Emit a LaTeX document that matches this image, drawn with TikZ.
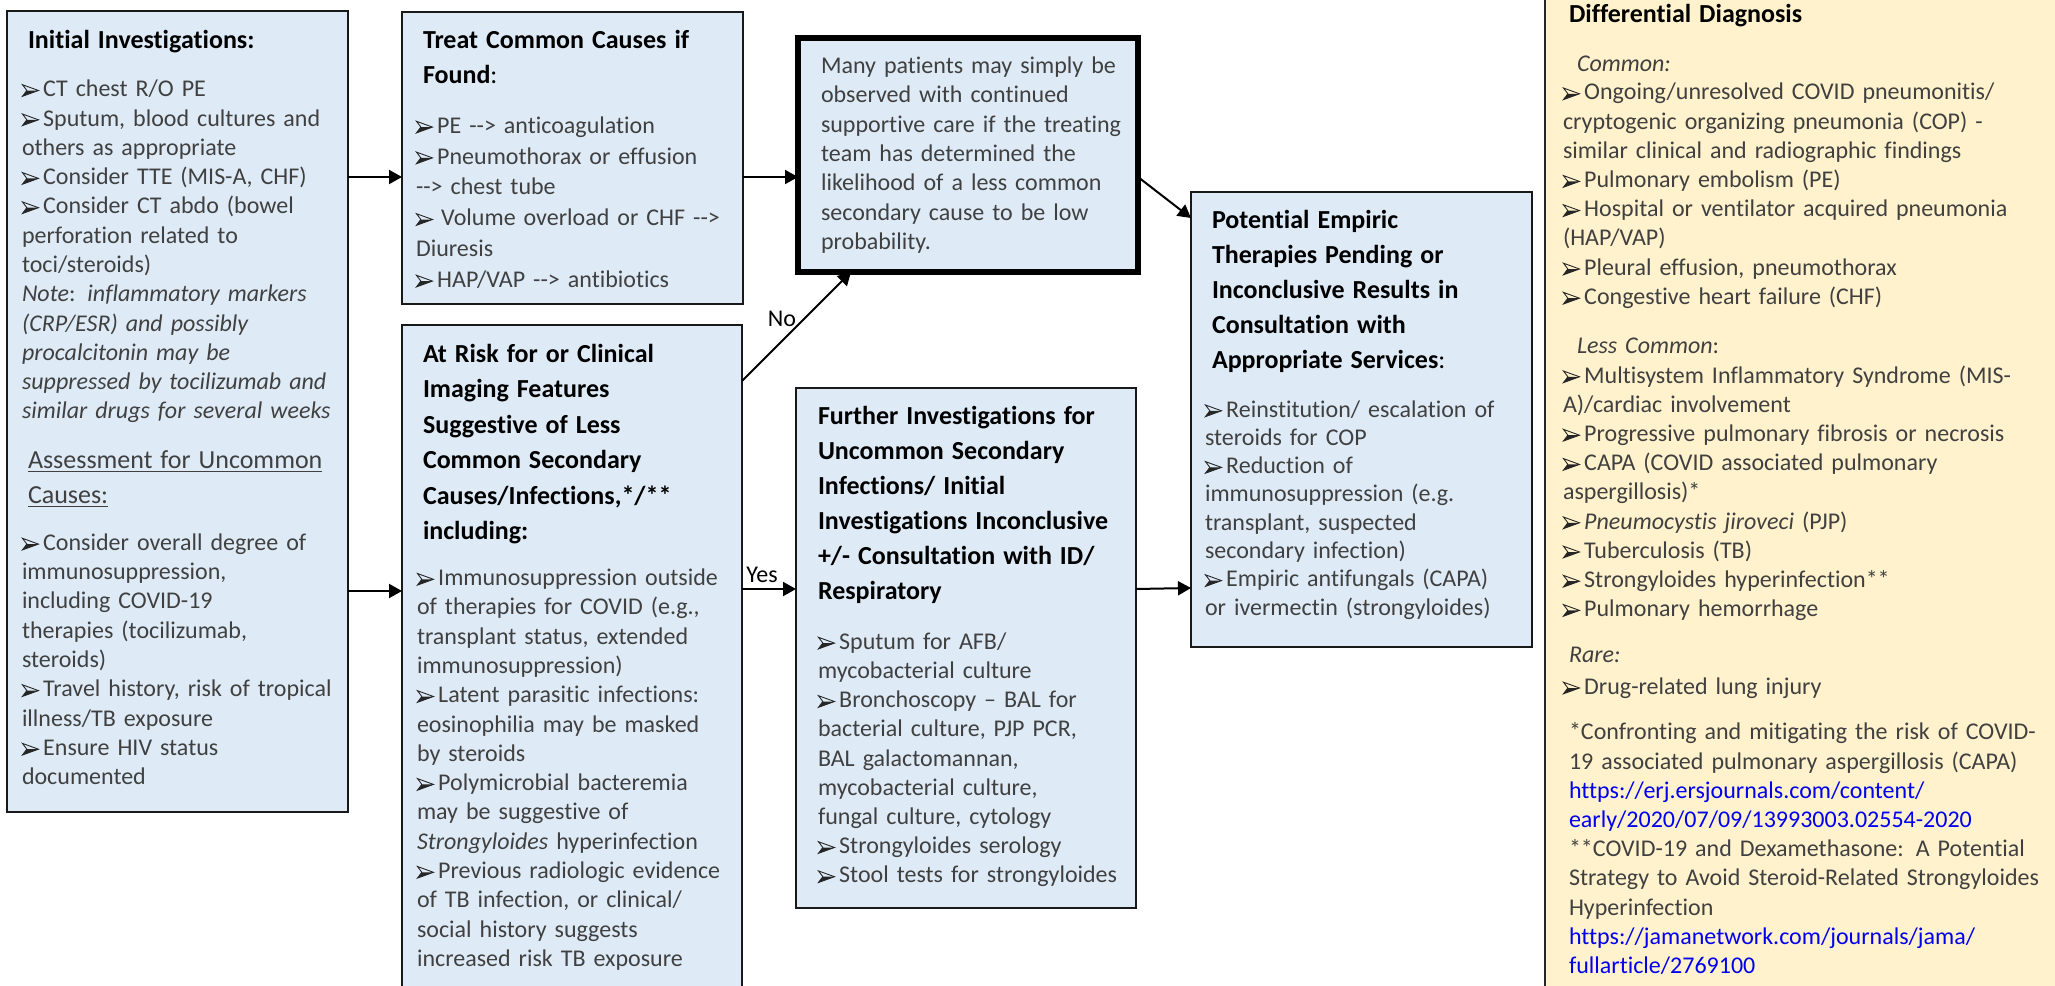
\documentclass[tikz,border=0pt]{standalone}
\usepackage{fontspec}
\setmainfont{Carlito}[Ligatures=NoCommon]
\usetikzlibrary{arrows.meta}
\definecolor{boxblue}{HTML}{DEEBF7}
\definecolor{boxyellow}{HTML}{FFF2CC}
\definecolor{txtgray}{HTML}{404040}
\definecolor{bulgray}{HTML}{262626}
\definecolor{linkblue}{HTML}{0000EE}
\newlength\hang \setlength\hang{10.6pt}
\newcommand\bulglyph{\tikz[x=1pt,y=1pt,baseline=0pt]{\fill[bulgray] (0.2,0.2) -- (8.2,3.1) -- (2.4,3.1) -- cycle; \draw[bulgray,line width=0.45pt,line join=miter] (0.2,6.0) -- (8.2,3.1) -- (0.2,0.2) -- (2.4,3.1) -- cycle;}}
\newcommand\bul{\makebox[\hang][l]{\bulglyph}}
\newcommand\itm{\par\noindent\hangindent=\hang\hangafter=1\bul}
\newcommand\hdr{\fontsize{13}{17.5}\selectfont\bfseries\color{black}}
\newcommand\bod[1]{\fontsize{12}{#1}\selectfont\color{txtgray}}
\newcommand\arrw{-{}-{}>}
\newcommand\mkbox[6]{\node[#2, anchor=north west, minimum width=#5*0.5pt, minimum height=#6*0.5pt] (#1) at (#3,#4) {};}
\tikzset{
  box/.style={draw=black!90, line width=1pt, fill=boxblue, inner sep=0pt, outer sep=0pt},
  thickbox/.style={box, draw=black, line width=3pt},
  ybox/.style={box, draw=black!85, fill=boxyellow},
  txt/.style={anchor=base west, inner sep=0pt, outer sep=0pt, align=left, font=\bod{14.65pt}},
  arr/.style={-{Triangle[length=6.5pt,width=7pt]}, line width=1pt, black},
  lbl/.style={inner sep=0pt, font=\fontsize{12}{14}\selectfont\color{black}}
}
\begin{document}
\begin{tikzpicture}[x=0.5pt,y=-0.5pt]
\useasboundingbox (0,0) rectangle (2055,985);
\clip (0,0) rectangle (2055,985);
\fill[white] (0,0) rectangle (2055,985);
% boxes
\mkbox{b1}{box}{7}{11}{341}{801}
\mkbox{b2}{box}{402}{12}{341}{292}
\mkbox{b3}{box}{402}{325}{340}{700}
\mkbox{b4}{thickbox}{798}{38}{340}{234}
\mkbox{b5}{box}{796}{388}{340}{520}
\mkbox{b6}{box}{1191}{192}{341}{455}
\mkbox{b7}{ybox}{1545}{-10}{540}{1020}
% texts
\node[txt, text width=200pt] (t1) at (22,48.3) {%
{\hdr\hspace*{3pt}Initial Investigations:\par}
\vspace{9.55pt}
\itm CT chest R/O PE
\itm Sputum, blood cultures and\\others as appropriate
\itm Consider TTE (MIS-A, CHF)
\itm Consider CT abdo (bowel\\perforation related to\\toci/steroids)
\par\noindent\textit{Note}: \textit{inflammatory markers}\\\textit{(CRP/ESR) and possibly}\\\textit{procalcitonin may be}\\\textit{suppressed by tocilizumab and}\\\textit{similar drugs for several weeks}
\par\vspace{7.15pt}
{\fontsize{13}{17.5}\selectfont\noindent\hspace*{3pt}\underline{Assessment for Uncommon}\\\hspace*{3pt}\underline{Causes:}\par}
\vspace{8.85pt}
\itm Consider overall degree of\\immunosuppression,\\including COVID-19\\therapies (tocilizumab,\\steroids)
\itm Travel history, risk of tropical\\illness/TB exposure
\itm Ensure HIV status\\documented\par};
\node[txt, text width=200pt] (t2) at (416,48.3) {%
{\hdr\hspace*{3.5pt}Treat Common Causes if\\\hspace*{3.5pt}Found\mdseries:\par}
\vspace{9.6pt}
\bod{15.4pt}
\itm PE \arrw{} anticoagulation
\itm Pneumothorax or effusion\\\arrw{} chest tube
\par\noindent\bul\,Volume overload or CHF \arrw\\Diuresis
\itm HAP/VAP \arrw{} antibiotics\par};
\node[txt, text width=200pt] (t3) at (417,362) {%
{\fontsize{13}{17.75}\selectfont\bfseries\color{black}\hspace*{3pt}At Risk for or Clinical\\\hspace*{3pt}Imaging Features\\\hspace*{3pt}Suggestive of Less\\\hspace*{3pt}Common Secondary\\\hspace*{3pt}Causes/Infections,*/**\\\hspace*{3pt}including:\par}
\vspace{8.35pt}
\itm Immunosuppression outside\\of therapies for COVID (e.g.,\\transplant status, extended\\immunosuppression)
\itm Latent parasitic infections:\\eosinophilia may be masked\\by steroids
\itm Polymicrobial bacteremia\\may be suggestive of\\\textit{Strongyloides} hyperinfection
\itm Previous radiologic evidence\\of TB infection, or clinical/\\social history suggests\\increased risk TB exposure\par};
\node[txt, text width=200pt, font=\bod{14.7pt}] (t4) at (821,73.3) {%
Many patients may simply be\\observed with continued\\supportive care if the treating\\team has determined the\\likelihood of a less common\\secondary cause to be low\\probability.\par};
\node[txt, text width=200pt, font=\bod{14.6pt}] (t5) at (818,424.3) {%
{\hdr Further Investigations for\\Uncommon Secondary\\Infections/ Initial\\Investigations Inconclusive\\+/- Consultation with ID/\\Respiratory\par}
\vspace{10.4pt}
\itm Sputum for AFB/\\mycobacterial culture
\itm Bronchoscopy – BAL for\\bacterial culture, PJP PCR,\\BAL galactomannan,\\mycobacterial culture,\\fungal culture, cytology
\itm Strongyloides serology
\itm Stool tests for strongyloides\par};
\node[txt, text width=200pt, font=\bod{14.15pt}] (t6) at (1205,228) {%
{\hdr\hspace*{3.5pt}Potential Empiric\\\hspace*{3.5pt}Therapies Pending or\\\hspace*{3.5pt}Inconclusive Results in\\\hspace*{3.5pt}Consultation with\\\hspace*{3.5pt}Appropriate Services\mdseries:\par}
\vspace{10.35pt}
\itm Reinstitution/ escalation of\\steroids for COP
\itm Reduction of\\immunosuppression (e.g.\\transplant, suspected\\secondary infection)
\itm Empiric antifungals (CAPA)\\or ivermectin (strongyloides)\par};
\node[txt, text width=260pt, font=\bod{14.6pt}] (t7) at (1563,23) {%
{\hdr\hspace*{3pt}Differential Diagnosis\par}
\vspace{9.9pt}
\noindent\hspace*{7pt}\textit{Common:}\par
\vspace{-0.6pt}
\itm Ongoing/unresolved COVID pneumonitis/\\cryptogenic organizing pneumonia (COP) -\\similar clinical and radiographic findings
\itm Pulmonary embolism (PE)
\itm Hospital or ventilator acquired pneumonia\\(HAP/VAP)
\itm Pleural effusion, pneumothorax
\itm Congestive heart failure (CHF)
\par\vspace{9.7pt}
\noindent\hspace*{7pt}\textit{Less Common}:\par
\vspace{0.4pt}
\itm Multisystem Inflammatory Syndrome (MIS-\\A)/cardiac involvement
\itm Progressive pulmonary fibrosis or necrosis
\itm CAPA (COVID associated pulmonary\\aspergillosis)*
\itm \textit{Pneumocystis jiroveci} (PJP)
\itm Tuberculosis (TB)
\itm Strongyloides hyperinfection**
\itm Pulmonary hemorrhage
\par\vspace{8.4pt}
\noindent\hspace*{3pt}\textit{Rare:}\par
\vspace{1.2pt}
\itm Drug-related lung injury
\par\vspace{8.2pt}
\noindent\hspace*{3pt}*Confronting and mitigating the risk of COVID-\\
\hspace*{3pt}19 associated pulmonary aspergillosis (CAPA)\\
\hspace*{3pt}{\color{linkblue}https://erj.ersjournals.com/content/}\\
\hspace*{3pt}{\color{linkblue}early/2020/07/09/13993003.02554-2020}\\
\hspace*{3pt}**COVID-19 and Dexamethasone: A Potential\\
\hspace*{3pt}Strategy to Avoid Steroid-Related Strongyloides\\
\hspace*{3pt}Hyperinfection\\
\hspace*{3pt}{\color{linkblue}https://jamanetwork.com/journals/jama/}\\
\hspace*{3pt}{\color{linkblue}fullarticle/2769100}\par};
% connectors
\draw[arr] (b1.east |- 0,177) -- (b2.west |- 0,177);
\draw[arr] (b1.east |- 0,591) -- (b3.west |- 0,591);
\draw[arr] (b2.east |- 0,177) -- (b4.west |- 0,177);
\draw[arr] (b3.east |- 0,381) -- (b4.south -| 851,0);
\draw[arr] (b3.east |- 0,589) -- (b5.west |- 0,589);
\draw[arr] (b4.east |- 0,177) -- (b6.west |- 0,218);
\draw[arr] (b5.east |- 0,589) -- (b6.west |- 0,588);
\node[lbl] (lno) at (782,319) {No};
\node[lbl] (lyes) at (762,575) {Yes};
\end{tikzpicture}
\end{document}
